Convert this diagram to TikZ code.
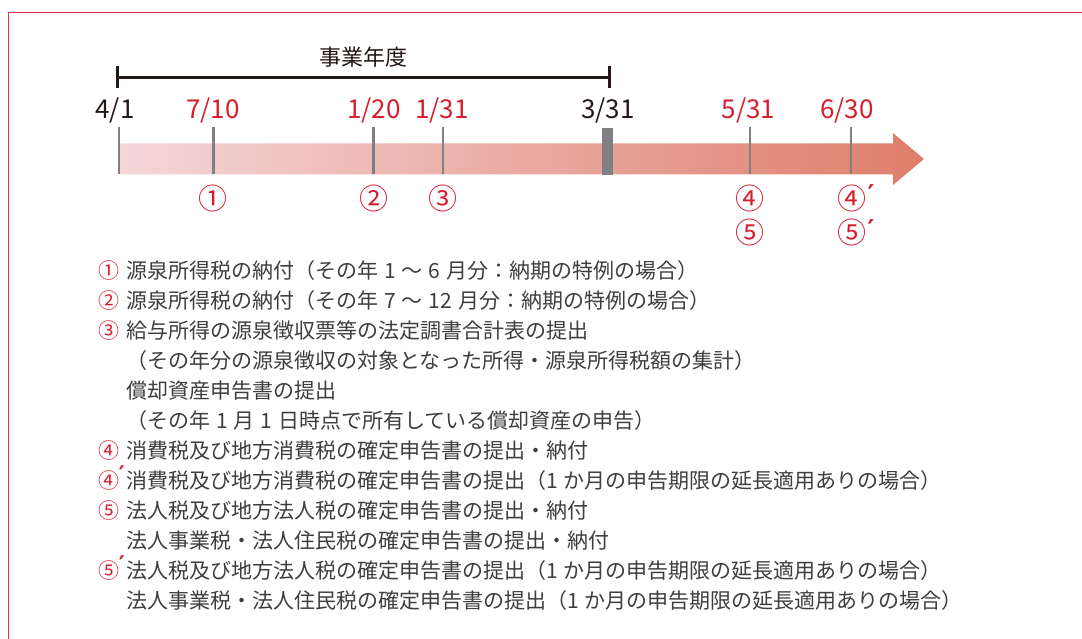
\documentclass[tikz,border=0pt]{standalone}
\usepackage{fontspec}
\setmainfont{Noto Sans CJK JP}
\newfontfamily\djv{DejaVu Sans}
\definecolor{framered}{RGB}{230,50,65}
\definecolor{datered}{RGB}{215,30,45}
\definecolor{tickgrey}{RGB}{128,128,132}
\definecolor{inkblack}{RGB}{35,24,21}
\definecolor{txtgrey}{RGB}{62,62,62}
\definecolor{barL}{RGB}{245,214,217}
\definecolor{barR}{RGB}{222,126,106}
\newcommand{\gp}{\hspace{6pt}}
\begin{document}
\begin{tikzpicture}[x=1pt,y=-1pt,
  date/.style={font=\fontsize{26}{30}\selectfont, anchor=base, inner sep=0pt},
  blackdate/.style={date, text=inkblack},
  reddate/.style={date, text=datered},
  tickmark/.style={draw=tickgrey, line width=2.7pt},
  bignum/.style={font=\fontsize{29}{33}\selectfont, text=datered, inner sep=0pt},
  bigprime/.style={font=\djv\bfseries\fontsize{26}{30}\selectfont, text=datered, inner sep=0pt, anchor=base},
  listnum/.style={font=\fontsize{21}{25}\selectfont, text=datered, anchor=base, inner sep=0pt},
  listprime/.style={font=\djv\bfseries\fontsize{23}{27}\selectfont, text=datered, inner sep=0pt, anchor=base},
  listtxt/.style={font=\fontsize{21}{25}\selectfont, text=txtgrey, anchor=base west, inner sep=0pt},
  fy/.style={draw=inkblack, line width=3pt}
]
\useasboundingbox (0,0) rectangle (1082,639);
\fill[white] (0,0) rectangle (1082,639);
% frame
\draw[framered, line width=1.6pt] (8.3,641) -- (8.3,12.4) -- (1084,12.4);

% fiscal year bracket
\node[font=\fontsize{22}{26}\selectfont, text=inkblack, anchor=base, inner sep=0pt] (fyl) at (363,66) {事業年度};
\coordinate (fyA) at (117,77.5);
\coordinate (fyB) at (609,77.5);
\draw[fy] (fyA) -- (fyB);
\draw[fy] ([yshift=-10.5pt]fyA) -- ([yshift=11.5pt]fyA);
\draw[fy] ([yshift=-10.5pt]fyB) -- ([yshift=11.5pt]fyB);

% bar arrow
\shade[left color=barL, right color=barR] (119,143.5) -- (893,143.5) -- (893,133) -- (924,159) -- (893,185) -- (893,174.5) -- (119,174.5) -- cycle;

% ticks
\coordinate (ta) at (119,127);   \coordinate (ba) at (119,174.5);
\coordinate (tb) at (213.5,127); \coordinate (bb) at (213.5,174.5);
\coordinate (tc) at (373.6,127); \coordinate (bc) at (373.6,174.5);
\coordinate (td) at (443,127);   \coordinate (bd) at (443,174.5);
\coordinate (te) at (607.5,128); \coordinate (be) at (607.5,174.6);
\coordinate (tf) at (750,127);   \coordinate (bf) at (750,174.5);
\coordinate (tg) at (851,127);   \coordinate (bg) at (851,174.5);
\draw[tickmark] (ta) -- (ba);
\draw[tickmark] (tb) -- (bb);
\draw[tickmark] (tc) -- (bc);
\draw[tickmark] (td) -- (bd);
\draw[tickmark, line width=11pt] (te) -- (be);
\draw[tickmark] (tf) -- (bf);
\draw[tickmark] (tg) -- (bg);

% dates
\node[blackdate] (d1) at (115,119) {4/1};
\node[reddate] (d2) at (213,119) {7/10};
\node[reddate] (d3) at (374,119) {1/20};
\node[reddate] (d4) at (442,119) {1/31};
\node[blackdate] (d5) at (608,119) {3/31};
\node[reddate] (d6) at (748.5,119) {5/31};
\node[reddate] (d7) at (847,119) {6/30};

% circled numbers on timeline
\node[bignum] (c1) at (213,198) {①};
\node[bignum] (c2) at (374,198) {②};
\node[bignum] (c3) at (443,198) {③};
\node[bignum] (c4) at (750,198) {④};
\node[bignum] (c5) at (750,232) {⑤};
\node[bignum] (c4p) at (852,198) {④};
\node[bignum] (c5p) at (852,232) {⑤};
\node[bigprime] (p4) at (871,204) {′};
\node[bigprime] (p5) at (871,239) {′};

% list
\node[listnum] (n1) at (109,278) {①};
\node[listtxt] (l1) at (126,278) {源泉所得税の納付（その年\gp 1\gp ～\gp 6\gp 月分：納期の特例の場合）};
\node[listnum] (n2) at (109,308) {②};
\node[listtxt] (l2) at (126,308) {源泉所得税の納付（その年\gp 7\gp ～\gp 12\gp 月分：納期の特例の場合）};
\node[listnum] (n3) at (109,338) {③};
\node[listtxt] (l3) at (126,338) {給与所得の源泉徴収票等の法定調書合計表の提出};
\node[listtxt] (l4) at (126,368) {（その年分の源泉徴収の対象となった所得・源泉所得税額の集計）};
\node[listtxt] (l5) at (126,398) {償却資産申告書の提出};
\node[listtxt] (l6) at (126,428) {（その年\gp 1\gp 月\gp 1\gp 日時点で所有している償却資産の申告）};
\node[listnum] (n7) at (109,458) {④};
\node[listtxt] (l7) at (126,458) {消費税及び地方消費税の確定申告書の提出・納付};
\node[listnum] (n8) at (109,488) {④};
\node[listprime] (n8p) at (122,482) {′};
\node[listtxt] (l8) at (126,488) {消費税及び地方消費税の確定申告書の提出（1\gp か月の申告期限の延長適用ありの場合）};
\node[listnum] (n9) at (109,518) {⑤};
\node[listtxt] (l9) at (126,518) {法人税及び地方法人税の確定申告書の提出・納付};
\node[listtxt] (l10) at (126,548) {法人事業税・法人住民税の確定申告書の提出・納付};
\node[listnum] (n11) at (109,578) {⑤};
\node[listprime] (n11p) at (122,572) {′};
\node[listtxt] (l11) at (126,578) {法人税及び地方法人税の確定申告書の提出（1\gp か月の申告期限の延長適用ありの場合）};
\node[listtxt] (l12) at (126,608) {法人事業税・法人住民税の確定申告書の提出（1\gp か月の申告期限の延長適用ありの場合）};
\end{tikzpicture}
\end{document}
